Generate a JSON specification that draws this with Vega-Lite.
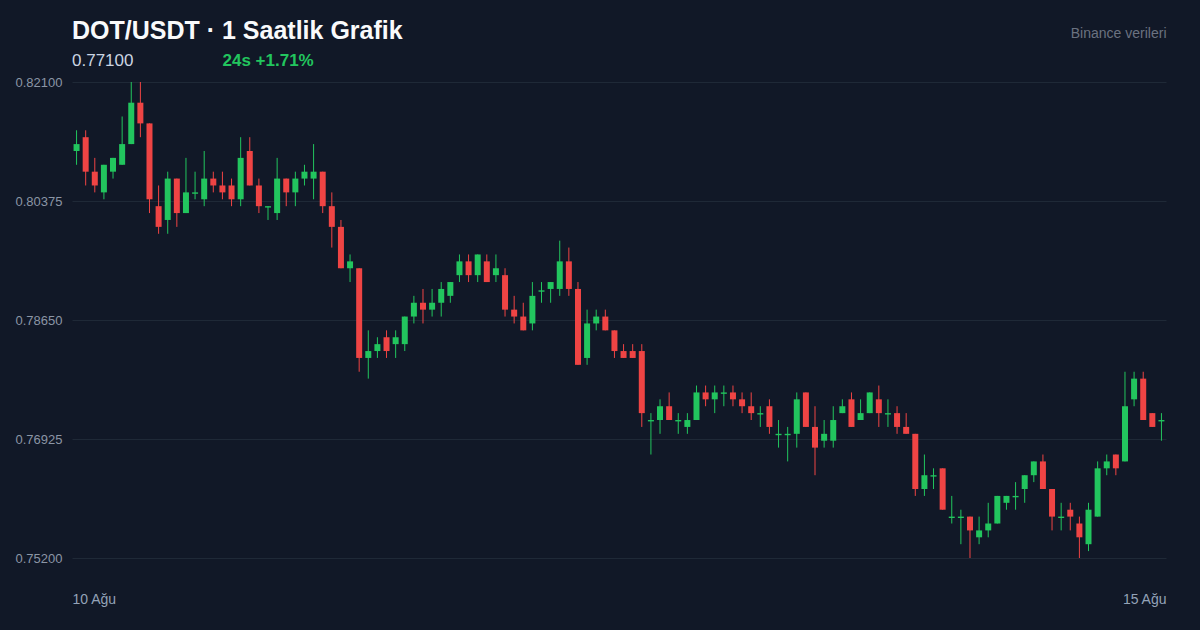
{
  "$schema": "https://vega.github.io/schema/vega-lite/v6.json",
  "width": 1094,
  "height": 476,
  "autosize": {"type": "none"},
  "padding": {"left": 72, "top": 82, "right": 34, "bottom": 72},
  "background": "#111827",
  "config": {
    "font": "Liberation Sans",
    "view": {"stroke": null}
  },
  "title": {
    "text": "DOT/USDT · 1 Saatlik Grafik",
    "subtitle": "0.77100",
    "anchor": "start",
    "frame": "group",
    "fontSize": 25,
    "fontWeight": "bold",
    "color": "#f9fafb",
    "subtitleFontSize": 17,
    "subtitleColor": "#cbd5e1",
    "subtitlePadding": 9,
    "offset": -43
  },
  "data": {
    "values": [
      {"t": "2025-08-10T12:00:00", "o": 0.811, "h": 0.814, "l": 0.809, "c": 0.812},
      {"t": "2025-08-10T13:00:00", "o": 0.813, "h": 0.814, "l": 0.806, "c": 0.808},
      {"t": "2025-08-10T14:00:00", "o": 0.808, "h": 0.810, "l": 0.805, "c": 0.806},
      {"t": "2025-08-10T15:00:00", "o": 0.805, "h": 0.809, "l": 0.804, "c": 0.809},
      {"t": "2025-08-10T16:00:00", "o": 0.808, "h": 0.810, "l": 0.807, "c": 0.810},
      {"t": "2025-08-10T17:00:00", "o": 0.809, "h": 0.816, "l": 0.809, "c": 0.812},
      {"t": "2025-08-10T18:00:00", "o": 0.812, "h": 0.821, "l": 0.812, "c": 0.818},
      {"t": "2025-08-10T19:00:00", "o": 0.818, "h": 0.821, "l": 0.813, "c": 0.815},
      {"t": "2025-08-10T20:00:00", "o": 0.815, "h": 0.815, "l": 0.802, "c": 0.804},
      {"t": "2025-08-10T21:00:00", "o": 0.803, "h": 0.806, "l": 0.799, "c": 0.800},
      {"t": "2025-08-10T22:00:00", "o": 0.801, "h": 0.808, "l": 0.799, "c": 0.807},
      {"t": "2025-08-10T23:00:00", "o": 0.807, "h": 0.807, "l": 0.800, "c": 0.802},
      {"t": "2025-08-11T00:00:00", "o": 0.802, "h": 0.810, "l": 0.802, "c": 0.805},
      {"t": "2025-08-11T01:00:00", "o": 0.8048, "h": 0.808, "l": 0.804, "c": 0.805},
      {"t": "2025-08-11T02:00:00", "o": 0.804, "h": 0.811, "l": 0.803, "c": 0.807},
      {"t": "2025-08-11T03:00:00", "o": 0.807, "h": 0.808, "l": 0.805, "c": 0.806},
      {"t": "2025-08-11T04:00:00", "o": 0.806, "h": 0.808, "l": 0.804, "c": 0.805},
      {"t": "2025-08-11T05:00:00", "o": 0.806, "h": 0.807, "l": 0.803, "c": 0.804},
      {"t": "2025-08-11T06:00:00", "o": 0.804, "h": 0.813, "l": 0.803, "c": 0.810},
      {"t": "2025-08-11T07:00:00", "o": 0.811, "h": 0.813, "l": 0.806, "c": 0.806},
      {"t": "2025-08-11T08:00:00", "o": 0.806, "h": 0.807, "l": 0.802, "c": 0.803},
      {"t": "2025-08-11T09:00:00", "o": 0.8028, "h": 0.803, "l": 0.801, "c": 0.803},
      {"t": "2025-08-11T10:00:00", "o": 0.802, "h": 0.810, "l": 0.801, "c": 0.807},
      {"t": "2025-08-11T11:00:00", "o": 0.807, "h": 0.807, "l": 0.803, "c": 0.805},
      {"t": "2025-08-11T12:00:00", "o": 0.805, "h": 0.808, "l": 0.803, "c": 0.807},
      {"t": "2025-08-11T13:00:00", "o": 0.807, "h": 0.809, "l": 0.806, "c": 0.808},
      {"t": "2025-08-11T14:00:00", "o": 0.807, "h": 0.812, "l": 0.804, "c": 0.808},
      {"t": "2025-08-11T15:00:00", "o": 0.808, "h": 0.808, "l": 0.802, "c": 0.803},
      {"t": "2025-08-11T16:00:00", "o": 0.803, "h": 0.805, "l": 0.797, "c": 0.800},
      {"t": "2025-08-11T17:00:00", "o": 0.800, "h": 0.801, "l": 0.794, "c": 0.794},
      {"t": "2025-08-11T18:00:00", "o": 0.794, "h": 0.796, "l": 0.792, "c": 0.795},
      {"t": "2025-08-11T19:00:00", "o": 0.794, "h": 0.794, "l": 0.779, "c": 0.781},
      {"t": "2025-08-11T20:00:00", "o": 0.781, "h": 0.785, "l": 0.778, "c": 0.782},
      {"t": "2025-08-11T21:00:00", "o": 0.782, "h": 0.784, "l": 0.781, "c": 0.783},
      {"t": "2025-08-11T22:00:00", "o": 0.784, "h": 0.785, "l": 0.781, "c": 0.782},
      {"t": "2025-08-11T23:00:00", "o": 0.783, "h": 0.785, "l": 0.781, "c": 0.784},
      {"t": "2025-08-12T00:00:00", "o": 0.783, "h": 0.787, "l": 0.782, "c": 0.787},
      {"t": "2025-08-12T01:00:00", "o": 0.787, "h": 0.790, "l": 0.786, "c": 0.789},
      {"t": "2025-08-12T02:00:00", "o": 0.789, "h": 0.791, "l": 0.786, "c": 0.788},
      {"t": "2025-08-12T03:00:00", "o": 0.788, "h": 0.791, "l": 0.787, "c": 0.789},
      {"t": "2025-08-12T04:00:00", "o": 0.789, "h": 0.792, "l": 0.787, "c": 0.791},
      {"t": "2025-08-12T05:00:00", "o": 0.790, "h": 0.792, "l": 0.789, "c": 0.792},
      {"t": "2025-08-12T06:00:00", "o": 0.793, "h": 0.796, "l": 0.792, "c": 0.795},
      {"t": "2025-08-12T07:00:00", "o": 0.795, "h": 0.796, "l": 0.792, "c": 0.793},
      {"t": "2025-08-12T08:00:00", "o": 0.793, "h": 0.796, "l": 0.792, "c": 0.796},
      {"t": "2025-08-12T09:00:00", "o": 0.795, "h": 0.796, "l": 0.792, "c": 0.792},
      {"t": "2025-08-12T10:00:00", "o": 0.793, "h": 0.796, "l": 0.792, "c": 0.794},
      {"t": "2025-08-12T11:00:00", "o": 0.793, "h": 0.794, "l": 0.787, "c": 0.788},
      {"t": "2025-08-12T12:00:00", "o": 0.788, "h": 0.790, "l": 0.786, "c": 0.787},
      {"t": "2025-08-12T13:00:00", "o": 0.787, "h": 0.789, "l": 0.785, "c": 0.785},
      {"t": "2025-08-12T14:00:00", "o": 0.786, "h": 0.792, "l": 0.785, "c": 0.790},
      {"t": "2025-08-12T15:00:00", "o": 0.7906, "h": 0.792, "l": 0.789, "c": 0.7908},
      {"t": "2025-08-12T16:00:00", "o": 0.791, "h": 0.792, "l": 0.789, "c": 0.792},
      {"t": "2025-08-12T17:00:00", "o": 0.791, "h": 0.798, "l": 0.790, "c": 0.795},
      {"t": "2025-08-12T18:00:00", "o": 0.795, "h": 0.797, "l": 0.790, "c": 0.791},
      {"t": "2025-08-12T19:00:00", "o": 0.791, "h": 0.792, "l": 0.780, "c": 0.780},
      {"t": "2025-08-12T20:00:00", "o": 0.781, "h": 0.788, "l": 0.780, "c": 0.786},
      {"t": "2025-08-12T21:00:00", "o": 0.786, "h": 0.788, "l": 0.785, "c": 0.787},
      {"t": "2025-08-12T22:00:00", "o": 0.787, "h": 0.788, "l": 0.785, "c": 0.785},
      {"t": "2025-08-12T23:00:00", "o": 0.785, "h": 0.785, "l": 0.781, "c": 0.782},
      {"t": "2025-08-13T00:00:00", "o": 0.782, "h": 0.783, "l": 0.781, "c": 0.781},
      {"t": "2025-08-13T01:00:00", "o": 0.782, "h": 0.783, "l": 0.781, "c": 0.781},
      {"t": "2025-08-13T02:00:00", "o": 0.782, "h": 0.783, "l": 0.771, "c": 0.773},
      {"t": "2025-08-13T03:00:00", "o": 0.7718, "h": 0.773, "l": 0.767, "c": 0.772},
      {"t": "2025-08-13T04:00:00", "o": 0.772, "h": 0.775, "l": 0.770, "c": 0.774},
      {"t": "2025-08-13T05:00:00", "o": 0.774, "h": 0.776, "l": 0.772, "c": 0.772},
      {"t": "2025-08-13T06:00:00", "o": 0.7718, "h": 0.773, "l": 0.770, "c": 0.772},
      {"t": "2025-08-13T07:00:00", "o": 0.771, "h": 0.773, "l": 0.770, "c": 0.772},
      {"t": "2025-08-13T08:00:00", "o": 0.772, "h": 0.777, "l": 0.772, "c": 0.776},
      {"t": "2025-08-13T09:00:00", "o": 0.776, "h": 0.777, "l": 0.774, "c": 0.775},
      {"t": "2025-08-13T10:00:00", "o": 0.775, "h": 0.777, "l": 0.773, "c": 0.776},
      {"t": "2025-08-13T11:00:00", "o": 0.7758, "h": 0.777, "l": 0.774, "c": 0.776},
      {"t": "2025-08-13T12:00:00", "o": 0.776, "h": 0.777, "l": 0.774, "c": 0.775},
      {"t": "2025-08-13T13:00:00", "o": 0.775, "h": 0.776, "l": 0.773, "c": 0.774},
      {"t": "2025-08-13T14:00:00", "o": 0.774, "h": 0.776, "l": 0.772, "c": 0.773},
      {"t": "2025-08-13T15:00:00", "o": 0.7728, "h": 0.774, "l": 0.771, "c": 0.773},
      {"t": "2025-08-13T16:00:00", "o": 0.774, "h": 0.775, "l": 0.770, "c": 0.771},
      {"t": "2025-08-13T17:00:00", "o": 0.7698, "h": 0.772, "l": 0.768, "c": 0.770},
      {"t": "2025-08-13T18:00:00", "o": 0.7698, "h": 0.771, "l": 0.766, "c": 0.770},
      {"t": "2025-08-13T19:00:00", "o": 0.770, "h": 0.776, "l": 0.768, "c": 0.775},
      {"t": "2025-08-13T20:00:00", "o": 0.776, "h": 0.776, "l": 0.771, "c": 0.771},
      {"t": "2025-08-13T21:00:00", "o": 0.771, "h": 0.774, "l": 0.764, "c": 0.768},
      {"t": "2025-08-13T22:00:00", "o": 0.769, "h": 0.772, "l": 0.768, "c": 0.770},
      {"t": "2025-08-13T23:00:00", "o": 0.769, "h": 0.774, "l": 0.768, "c": 0.772},
      {"t": "2025-08-14T00:00:00", "o": 0.773, "h": 0.775, "l": 0.773, "c": 0.774},
      {"t": "2025-08-14T01:00:00", "o": 0.775, "h": 0.776, "l": 0.771, "c": 0.771},
      {"t": "2025-08-14T02:00:00", "o": 0.772, "h": 0.775, "l": 0.772, "c": 0.773},
      {"t": "2025-08-14T03:00:00", "o": 0.773, "h": 0.776, "l": 0.773, "c": 0.776},
      {"t": "2025-08-14T04:00:00", "o": 0.775, "h": 0.777, "l": 0.771, "c": 0.773},
      {"t": "2025-08-14T05:00:00", "o": 0.7728, "h": 0.775, "l": 0.771, "c": 0.773},
      {"t": "2025-08-14T06:00:00", "o": 0.773, "h": 0.774, "l": 0.770, "c": 0.771},
      {"t": "2025-08-14T07:00:00", "o": 0.771, "h": 0.773, "l": 0.770, "c": 0.770},
      {"t": "2025-08-14T08:00:00", "o": 0.770, "h": 0.770, "l": 0.761, "c": 0.762},
      {"t": "2025-08-14T09:00:00", "o": 0.762, "h": 0.767, "l": 0.761, "c": 0.764},
      {"t": "2025-08-14T10:00:00", "o": 0.7638, "h": 0.765, "l": 0.762, "c": 0.764},
      {"t": "2025-08-14T11:00:00", "o": 0.765, "h": 0.765, "l": 0.759, "c": 0.759},
      {"t": "2025-08-14T12:00:00", "o": 0.7578, "h": 0.761, "l": 0.757, "c": 0.758},
      {"t": "2025-08-14T13:00:00", "o": 0.7578, "h": 0.759, "l": 0.754, "c": 0.758},
      {"t": "2025-08-14T14:00:00", "o": 0.758, "h": 0.758, "l": 0.752, "c": 0.756},
      {"t": "2025-08-14T15:00:00", "o": 0.755, "h": 0.758, "l": 0.754, "c": 0.756},
      {"t": "2025-08-14T16:00:00", "o": 0.756, "h": 0.760, "l": 0.755, "c": 0.757},
      {"t": "2025-08-14T17:00:00", "o": 0.757, "h": 0.761, "l": 0.757, "c": 0.761},
      {"t": "2025-08-14T18:00:00", "o": 0.760, "h": 0.761, "l": 0.759, "c": 0.761},
      {"t": "2025-08-14T19:00:00", "o": 0.7608, "h": 0.763, "l": 0.759, "c": 0.761},
      {"t": "2025-08-14T20:00:00", "o": 0.762, "h": 0.764, "l": 0.760, "c": 0.764},
      {"t": "2025-08-14T21:00:00", "o": 0.764, "h": 0.766, "l": 0.763, "c": 0.766},
      {"t": "2025-08-14T22:00:00", "o": 0.766, "h": 0.767, "l": 0.762, "c": 0.762},
      {"t": "2025-08-14T23:00:00", "o": 0.762, "h": 0.762, "l": 0.756, "c": 0.758},
      {"t": "2025-08-15T00:00:00", "o": 0.7578, "h": 0.760, "l": 0.756, "c": 0.758},
      {"t": "2025-08-15T01:00:00", "o": 0.759, "h": 0.760, "l": 0.756, "c": 0.758},
      {"t": "2025-08-15T02:00:00", "o": 0.757, "h": 0.758, "l": 0.752, "c": 0.755},
      {"t": "2025-08-15T03:00:00", "o": 0.754, "h": 0.760, "l": 0.753, "c": 0.759},
      {"t": "2025-08-15T04:00:00", "o": 0.758, "h": 0.766, "l": 0.758, "c": 0.765},
      {"t": "2025-08-15T05:00:00", "o": 0.765, "h": 0.767, "l": 0.764, "c": 0.766},
      {"t": "2025-08-15T06:00:00", "o": 0.767, "h": 0.767, "l": 0.764, "c": 0.765},
      {"t": "2025-08-15T07:00:00", "o": 0.766, "h": 0.779, "l": 0.766, "c": 0.774},
      {"t": "2025-08-15T08:00:00", "o": 0.775, "h": 0.779, "l": 0.774, "c": 0.778},
      {"t": "2025-08-15T09:00:00", "o": 0.778, "h": 0.779, "l": 0.772, "c": 0.772},
      {"t": "2025-08-15T10:00:00", "o": 0.773, "h": 0.773, "l": 0.771, "c": 0.771},
      {"t": "2025-08-15T11:00:00", "o": 0.7718, "h": 0.773, "l": 0.769, "c": 0.772}
    ]
  },
  "encoding": {
    "x": {
      "field": "t",
      "type": "temporal",
      "scale": {
        "padding": 0,
        "domain": [
          {"year": 2025, "month": 8, "date": 10, "hours": 11, "minutes": 30},
          {"year": 2025, "month": 8, "date": 15, "hours": 11, "minutes": 30}
        ]
      },
      "axis": {
        "title": "24s +1.71%",
        "titleColor": "#22c55e",
        "titleFontSize": 17,
        "titleFontWeight": "bold",
        "titleAnchor": "start",
        "titleAlign": "left",
        "titleBaseline": "middle",
        "titleX": 150,
        "titleY": -498,
        "values": [
          {"year": 2025, "month": 8, "date": 10, "hours": 11, "minutes": 30},
          {"year": 2025, "month": 8, "date": 15, "hours": 11, "minutes": 30}
        ],
        "labelExpr": "timeFormat(datum.value, '%-d') + ' Ağu'",
        "labelFlush": true,
        "labelColor": "#94a3b8",
        "labelFontSize": 14,
        "labelPadding": 34,
        "ticks": false,
        "tickSize": 0,
        "domain": false,
        "grid": false
      }
    },
    "color": {
      "condition": {"test": "datum.c >= datum.o", "value": "#22c55e"},
      "value": "#ef4444"
    }
  },
  "layer": [
    {
      "mark": {"type": "rule", "strokeWidth": 1},
      "encoding": {
        "y": {
          "field": "l",
          "type": "quantitative",
          "scale": {"domain": [0.752, 0.821], "nice": false, "zero": false},
          "axis": {
            "title": "Binance verileri",
            "titleAngle": 0,
            "titleColor": "#6b7280",
            "titleFontSize": 14,
            "titleFontWeight": "normal",
            "titleAlign": "right",
            "titleBaseline": "middle",
            "titleX": 1094,
            "titleY": -49,
            "values": [0.752, 0.76925, 0.7865, 0.80375, 0.821],
            "format": ".5f",
            "labelColor": "#8b95a5",
            "labelFontSize": 13,
            "labelPadding": 10,
            "ticks": false,
            "tickSize": 0,
            "domain": false,
            "gridColor": "#1f2937",
            "gridWidth": 1
          }
        },
        "y2": {"field": "h"}
      }
    },
    {
      "mark": {"type": "bar", "width": 6},
      "encoding": {
        "y": {"field": "o", "type": "quantitative"},
        "y2": {"field": "c"}
      }
    }
  ]
}
